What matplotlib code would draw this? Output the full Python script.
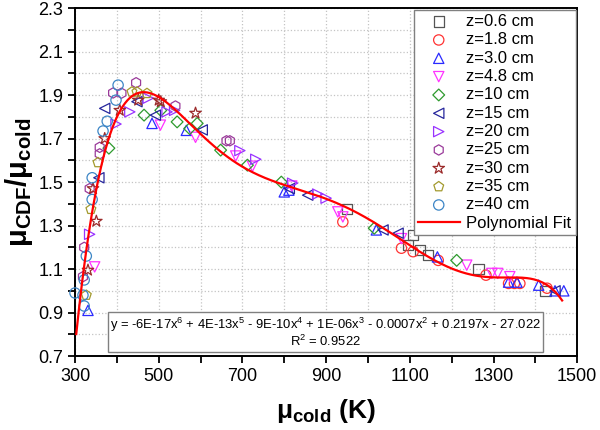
import numpy as np
import matplotlib
matplotlib.use("Agg")
import matplotlib.pyplot as plt
from matplotlib.ticker import FixedLocator, MultipleLocator

plt.rcParams['font.family'] = ['Liberation Sans', 'DejaVu Sans']
plt.rcParams['mathtext.fontset'] = 'custom'
plt.rcParams['mathtext.rm'] = 'Liberation Sans'
plt.rcParams['mathtext.bf'] = 'Liberation Sans:bold'
plt.rcParams['mathtext.it'] = 'Liberation Sans:italic'

# data: (mu_cold, mu_CDF/mu_cold) per height
x06 = [950, 1096, 1108, 1124, 1144, 1264, 1424]
y06 = [1.376, 1.21, 1.256, 1.187, 1.164, 1.10, 1.0]
x18 = [940, 1080, 1108, 1168, 1282, 1336, 1350, 1363, 1428]
y18 = [1.317, 1.196, 1.18, 1.14, 1.072, 1.034, 1.034, 1.034, 1.012]
x30 = [331, 484, 566, 800, 811, 1020, 1166, 1336, 1356, 1408, 1447, 1468]
y30 = [0.91, 1.77, 1.738, 1.455, 1.463, 1.28, 1.156, 1.04, 1.04, 1.026, 1.0, 1.0]
x48 = [347, 504, 588, 684, 724, 818, 928, 940, 1080, 1236, 1296, 1310, 1339]
y48 = [1.11, 1.762, 1.706, 1.62, 1.573, 1.482, 1.363, 1.34, 1.24, 1.118, 1.08, 1.08, 1.065]
x10 = [381, 465, 505, 544, 574, 592, 648, 712, 793, 1015, 1212]
y10 = [1.656, 1.808, 1.83, 1.777, 1.746, 1.77, 1.647, 1.578, 1.50, 1.288, 1.14]
x15 = [357, 371, 448, 492, 604, 812, 856, 1036, 1072, 1447]
y15 = [1.52, 1.839, 1.87, 1.808, 1.74, 1.47, 1.44, 1.28, 1.265, 1.0]
x20 = [335, 398, 431, 475, 520, 538, 694, 732, 820, 880, 900]
y20 = [1.26, 1.767, 1.823, 1.886, 1.823, 1.83, 1.645, 1.605, 1.495, 1.445, 1.426]
x25 = [319, 322, 335, 359, 359, 391, 411, 446, 540, 662, 670]
y25 = [1.065, 1.20, 1.47, 1.63, 1.66, 1.91, 1.909, 1.957, 1.85, 1.69, 1.69]
x30cm = [331, 343, 351, 371, 407, 451, 500, 505, 588]
y30cm = [1.095, 1.47, 1.32, 1.70, 1.83, 1.877, 1.877, 1.87, 1.817]
x35 = [327, 338, 355, 436, 448, 472]
y35 = [0.98, 1.375, 1.59, 1.915, 1.915, 1.908]
x40 = [300, 319, 322, 322, 327, 341, 341, 367, 377, 398, 403]
y40 = [0.99, 0.98, 0.93, 1.05, 1.16, 1.42, 1.52, 1.735, 1.78, 1.877, 1.946]

series = [
    ('z=0.6 cm', x06, y06, 's', '#555555'),
    ('z=1.8 cm', x18, y18, 'o', '#ff3333'),
    ('z=3.0 cm', x30, y30, '^', '#2a2aff'),
    ('z=4.8 cm', x48, y48, 'v', '#ff33ff'),
    ('z=10 cm', x10, y10, 'D', '#2e9a2e'),
    ('z=15 cm', x15, y15, '<', '#26269c'),
    ('z=20 cm', x20, y20, '>', '#9933ff'),
    ('z=25 cm', x25, y25, 'h', '#9a3a9a'),
    ('z=30 cm', x30cm, y30cm, '*', '#9b2a2a'),
    ('z=35 cm', x35, y35, 'p', '#a39a2e'),
    ('z=40 cm', x40, y40, 'o', '#3d86c6'),
]

fig = plt.figure(figsize=(6, 4.3), dpi=100)
ax = fig.add_axes([0.125, 0.172, 0.837, 0.809])

for lab, xs, ys, mk, col in series:
    sz = 55
    if mk == 'D':
        sz = 36
    if mk == '*':
        sz = 75
    ax.scatter(xs, ys, s=sz, marker=mk, facecolors='none', edgecolors=col,
               linewidths=0.9, label=lab, clip_on=False, zorder=3)

# 6th order polynomial fit of all points
allx = np.concatenate([s[1] for s in series]).astype(float)
ally = np.concatenate([s[2] for s in series]).astype(float)
poly = np.polynomial.Polynomial.fit(allx, ally, 6)
xf = np.linspace(303, 1464, 400)
ax.plot(xf, poly(xf), color='#ff0000', lw=1.6, label='Polynomial Fit', zorder=4)

ax.set_xlim(300, 1500)
ax.set_ylim(0.7, 2.3)
ax.xaxis.set_major_locator(FixedLocator(np.arange(300, 1501, 200)))
ax.xaxis.set_minor_locator(MultipleLocator(100))
ax.yaxis.set_major_locator(FixedLocator(np.round(np.arange(0.7, 2.31, 0.2), 1)))
ax.yaxis.set_minor_locator(MultipleLocator(0.1))
ax.grid(True, which='both', ls=':', color='#c4c4c4', lw=0.9)
ax.set_axisbelow(True)
ax.tick_params(which='both', direction='out', length=5, width=1.3,
               labelsize=13, top=False, right=False)
for sp in ax.spines.values():
    sp.set_linewidth(1.4)

ax.set_xlabel(r'$\mathbf{\mu_{cold}}$ (K)', fontsize=19, fontweight='bold', labelpad=9)
ax.set_ylabel(r'$\mathbf{\mu_{CDF}/\mu_{cold}}$', fontsize=21, fontweight='bold', labelpad=2)

leg = ax.legend(loc='upper right', fontsize=12, frameon=True, fancybox=False,
                edgecolor='#808080', framealpha=1, labelspacing=0.2,
                handlelength=2.5, handletextpad=0.4, borderpad=0.25,
                borderaxespad=0.1)
leg.get_frame().set_linewidth(1.0)

eq = ('y = -6E-17x$^6$ + 4E-13x$^5$ - 9E-10x$^4$ + 1E-06x$^3$ - 0.0007x$^2$ + 0.2197x - 27.022\n'
      'R$^2$ = 0.9522')
ax.text(0.499, 0.0675, eq, transform=ax.transAxes, ha='center', va='center',
        multialignment='center', fontsize=9.4, zorder=5, linespacing=1.0,
        bbox=dict(boxstyle='square,pad=0.18', fc='white', ec='#808080', lw=1.0))

fig.savefig('out.png', dpi=100)
